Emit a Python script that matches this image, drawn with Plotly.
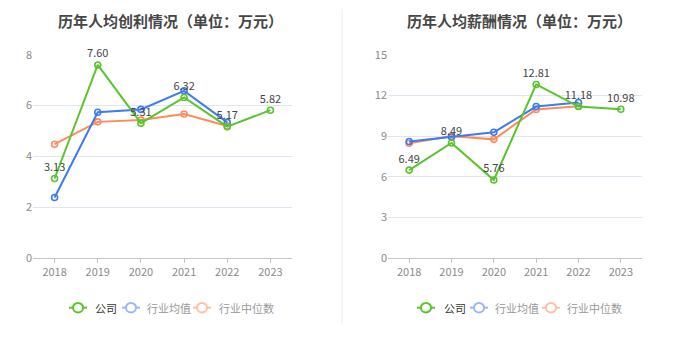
import plotly.graph_objects as go

years = ["2018", "2019", "2020", "2021", "2022", "2023"]

# 人均创利
profit_company = [3.13, 7.60, 5.31, 6.32, 5.17, 5.82]
profit_avg = [2.38, 5.74, 5.85, 6.58, 5.34, None]
profit_median = [4.48, 5.36, 5.43, 5.67, 5.20, None]

# 人均薪酬
salary_company = [6.49, 8.49, 5.76, 12.81, 11.18, 10.98]
salary_avg = [8.60, 8.93, 9.28, 11.18, 11.48, None]
salary_median = [8.47, 9.01, 8.76, 10.97, 11.20, None]

series_names = ["公司", "行业均值", "行业中位数"]
colors = ["#5ac42c", "#3d7cf0", "#ff8a5c"]
legend_colors = ["#5ac42c", "#9ab8f5", "#ffc0a6"]

titles = ["历年人均创利情况（单位：万元）", "历年人均薪酬情况（单位：万元）"]
FONT = "Noto Sans CJK SC, Noto Sans, sans-serif"

fig = go.Figure()

def add_panel(xa, ya, comp, avg, med):
    for vals, col, name in [(med, colors[2], series_names[2]),
                            (avg, colors[1], series_names[1]),
                            (comp, colors[0], series_names[0])]:
        is_comp = name == "公司"
        fig.add_trace(go.Scatter(
            x=years, y=vals, xaxis=xa, yaxis=ya, name=name,
            mode="lines+markers+text" if is_comp else "lines+markers",
            line=dict(color=col, width=2),
            marker=dict(symbol="circle-open", size=6, color=col, line=dict(width=1.6)),
            text=[f"{v:.2f}" if v is not None else "" for v in vals] if is_comp else None,
            textposition="top center",
            textfont=dict(size=11, color="#444", family=FONT),
            showlegend=False, connectgaps=False, cliponaxis=False,
        ))

add_panel("x", "y", profit_company, profit_avg, profit_median)
add_panel("x2", "y2", salary_company, salary_avg, salary_median)

axis_common = dict(
    showgrid=False, showline=True, linecolor="#c4c4c4", linewidth=1,
    ticks="outside", ticklen=4, tickcolor="#c4c4c4",
    tickfont=dict(size=11, color="#8a8a8a", family=FONT),
    range=[-0.5, 5.5], type="category", fixedrange=True,
)
yaxis_common = dict(
    showgrid=True, gridcolor="#e0e6f1", gridwidth=1, zeroline=False,
    showline=False, ticks="", tickfont=dict(size=11, color="#8a8a8a", family=FONT),
)

ydom = [1 - 261 / 349, 1 - 48 / 349]
fig.update_layout(
    width=680, height=349,
    margin=dict(l=0, r=0, t=0, b=0),
    paper_bgcolor="white", plot_bgcolor="white",
    font=dict(family=FONT),
    xaxis=dict(domain=[33 / 680, 292 / 680], anchor="y", **axis_common),
    xaxis2=dict(domain=[388 / 680, 642 / 680], anchor="y2", **axis_common),
    yaxis=dict(domain=ydom, anchor="x", range=[0, 8], dtick=2, **yaxis_common),
    yaxis2=dict(domain=ydom, anchor="x2", range=[0, 15], dtick=3, **yaxis_common),
)

shapes = []
annotations = []
# titles
for cx, t in [(170, titles[0]), (519, titles[1])]:
    annotations.append(dict(x=cx / 680, y=1 - 12 / 349, xref="paper", yref="paper",
                            text=f"<b>{t}</b>", showarrow=False, xanchor="center", yanchor="middle",
                            font=dict(size=15, color="#464646", family=FONT)))
# divider
shapes.append(dict(type="line", xref="paper", yref="paper", x0=342 / 680, x1=342 / 680,
                   y0=1 - 330 / 349, y1=1, line=dict(color="#eeeeee", width=1)))

# custom legends
ly = 1 - 313 / 349
for icon_xs, text_xs in [([78, 131, 202], [93, 145, 217]), ([426, 479, 551], [442, 493, 565])]:
    for i in range(3):
        cx = icon_xs[i]
        col = legend_colors[i]
        shapes.append(dict(type="line", xref="paper", yref="paper",
                           x0=(cx - 9) / 680, x1=(cx + 9) / 680, y0=ly, y1=ly,
                           line=dict(color=col, width=2)))
        shapes.append(dict(type="circle", xref="paper", yref="paper",
                           x0=(cx - 5) / 680, x1=(cx + 5) / 680,
                           y0=ly - 5 / 349, y1=ly + 5 / 349,
                           line=dict(color=col, width=2), fillcolor="white"))
        annotations.append(dict(x=text_xs[i] / 680, y=ly, xref="paper", yref="paper",
                                text=series_names[i], showarrow=False, xanchor="left", yanchor="middle",
                                font=dict(size=11, color="#333" if i == 0 else "#999", family=FONT)))

fig.update_layout(shapes=shapes, annotations=annotations)
fig.write_html("out.html")
